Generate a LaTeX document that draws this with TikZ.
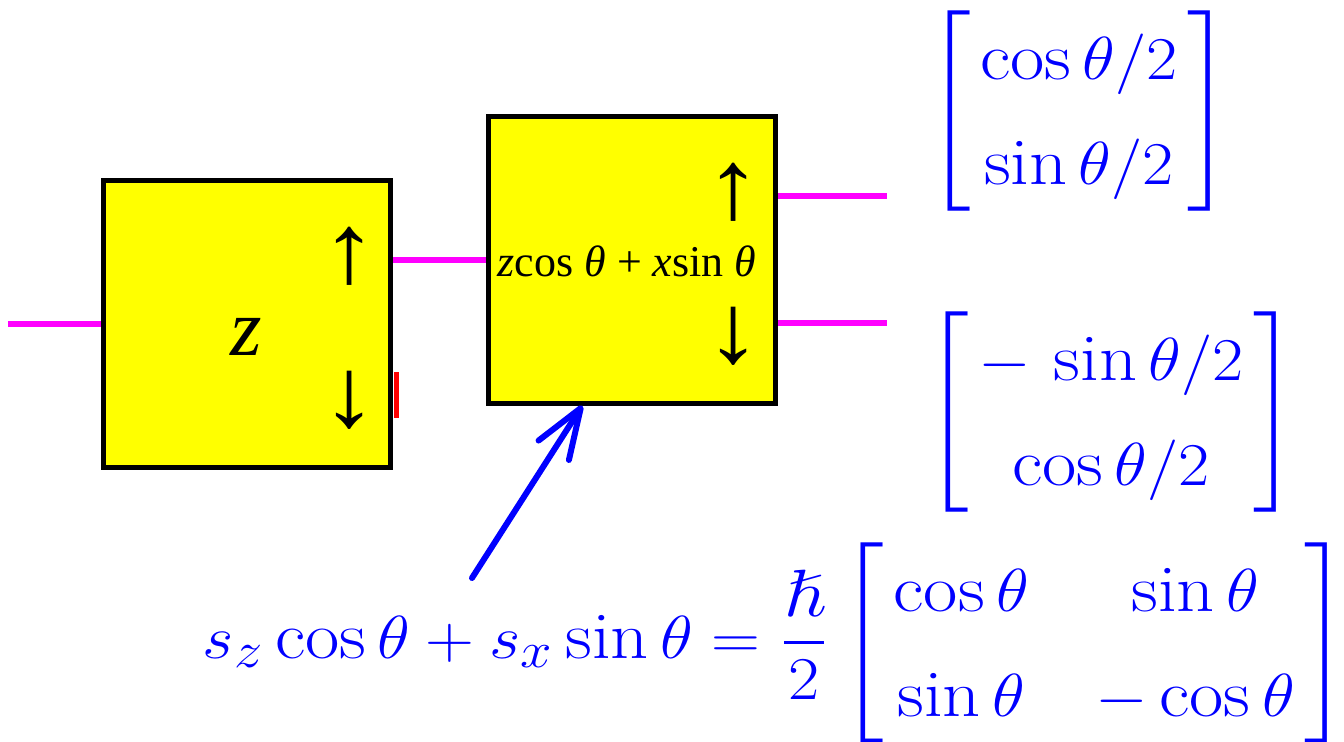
\documentclass[tikz,border=0pt]{standalone}
\usepackage{amsmath,amssymb}
\usepackage{fontspec}
\usetikzlibrary{arrows.meta,calc}
\newfontfamily\tms{Liberation Serif}
\definecolor{cBox}{RGB}{255,255,0}
\definecolor{cWire}{RGB}{255,0,255}
\definecolor{cNote}{RGB}{0,0,255}
\definecolor{cMark}{RGB}{255,0,0}
\newcommand{\eqsize}{\fontsize{19}{23}\selectfont}
\renewcommand{\arraystretch}{1.3}
\setlength{\arraycolsep}{2.5pt}

\begin{document}
\begin{tikzpicture}[x=0.01cm, y=-0.01cm,
  blk/.style={draw, line width=0.05cm, fill=cBox, minimum width=2.87cm, minimum height=2.86cm, inner sep=0pt},
  wire/.style={cWire, line width=0.06cm},
  spin/.style={font=\tms\bfseries\fontsize{28}{28}\selectfont, inner sep=0pt, xscale=1.14},
  gate/.style={font=\tms\fontsize{12.5}{14}\selectfont, inner sep=0pt, anchor=base},
  eqn/.style={cNote, font=\eqsize, inner sep=0pt, xscale=1.115},
  redbar/.style={cMark, line width=0.05cm},
  pointer/.style={cNote, line width=0.06cm, line cap=round, -{Straight Barb[length=5mm, width=3.6mm, round]}}]
\useasboundingbox (0,0) rectangle (1344,742);
% the two Stern-Gerlach boxes
\node[blk] (sg1) at (247,324) {};
\node[blk] (sg2) at (632,260) {};
\node[font=\tms\itshape\fontsize{23}{23}\selectfont, inner sep=0pt, anchor=base] (lz) at (246,355) {z};
\node[gate] (lrot) at (627,276) {\textit{z}cos \textit{θ} + \textit{x}sin \textit{θ}};
\node[spin] (u1) at (350,256) {↑};
\node[spin] (d1) at (350,400) {↓};
\node[spin] (u2) at (734,192) {↑};
\node[spin] (d2) at (734,336) {↓};
% beams
\coordinate (in) at (8,324);
\coordinate (o1) at (887,196);
\coordinate (o2) at (887,323);
\draw[wire] (in) -- (sg1.west);
\draw[wire] (sg2.west -| sg1.east) -- (sg2.west);
\draw[wire] (o1 -| sg2.east) -- (o1);
\draw[wire] (o2 -| sg2.east) -- (o2);
\draw[redbar] ($(sg1.east)+(3,48)$) -- ++(0,46);
% states and operator
\node[eqn] (mUp) at (1079,111) {$\left[\begin{array}{c}\cos\theta/2\\ \sin\theta/2\end{array}\right]$};
\node[eqn] (mDn) at (1111,412) {$\left[\begin{array}{c}-\,\sin\theta/2\\ \cos\theta/2\end{array}\right]$};
\node[eqn, anchor=base west] (op) at (202,658) {$s_z\cos\theta+s_x\sin\theta=\dfrac{\hslash}{2}\left[\begin{array}{c@{\hspace{17pt}}c}\cos\theta & \sin\theta\\ \sin\theta & -\cos\theta\end{array}\right]$};
\coordinate (src) at (472,578);
\draw[pointer] (src) -- ($(sg2.south west)!0.33!(sg2.south east)$);
\end{tikzpicture}
\end{document}
